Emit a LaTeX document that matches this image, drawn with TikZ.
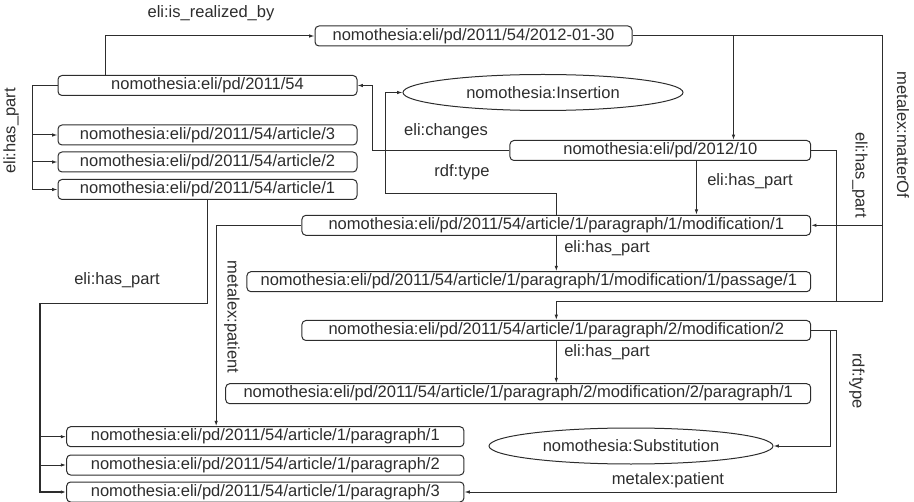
\documentclass[tikz,border=0pt]{standalone}
\usepackage{fontspec}
\setmainfont{Liberation Sans}
\usetikzlibrary{arrows.meta,calc,shapes.geometric}
\definecolor{ink}{RGB}{45,45,45}
\begin{document}
\begin{tikzpicture}[x=0.75pt,y=-0.75pt,
  font=\fontsize{12.4}{14}\selectfont,
  every node/.style={text=ink},
  uri/.style={draw=ink, line width=0.75pt, rounded corners=3pt,
    minimum height=15pt, minimum width=#1*0.75pt, inner sep=0pt},
  cls/.style={draw=ink, line width=0.75pt, ellipse,
    minimum height=27pt, minimum width=#1*0.75pt, inner sep=0pt},
  edge/.style={draw=ink, line width=0.75pt},
  arr/.style={edge, -{Latex[length=4pt,width=2.6pt]}},
  lbl/.style={inner sep=0pt}]
\useasboundingbox (0,0) rectangle (914,502);

% resources
\node[uri=317]   (real) at (473.5,36)   {nomothesia:eli/pd/2011/54/2012-01-30};
\node[uri=299]   (act)  at (207.5,85.5) {nomothesia:eli/pd/2011/54};
\node[uri=299]   (a3)   at (207.5,135)  {nomothesia:eli/pd/2011/54/article/3};
\node[uri=299]   (a2)   at (207.5,162)  {nomothesia:eli/pd/2011/54/article/2};
\node[uri=299]   (a1)   at (207.5,189.5){nomothesia:eli/pd/2011/54/article/1};
\node[cls=280]   (ins)  at (543,92.5)   {nomothesia:Insertion};
\node[uri=300.7] (chg)  at (660.3,150.5){nomothesia:eli/pd/2012/10};
\node[uri=508.7] (m1)   at (556.3,225.3){nomothesia:eli/pd/2011/54/article/1/paragraph/1/modification/1};
\node[uri=563.7] (pass) at (528.8,281.7){nomothesia:eli/pd/2011/54/article/1/paragraph/1/modification/1/passage/1};
\node[uri=508.7] (m2)   at (556.3,330.5){nomothesia:eli/pd/2011/54/article/1/paragraph/2/modification/2};
\node[uri=585]   (m2p1) at (518.2,393.7){nomothesia:eli/pd/2011/54/article/1/paragraph/2/modification/2/paragraph/1};
\node[uri=397.3] (p1)   at (265.3,436.7){nomothesia:eli/pd/2011/54/article/1/paragraph/1};
\node[uri=397.3] (p2)   at (265.3,465)  {nomothesia:eli/pd/2011/54/article/1/paragraph/2};
\node[uri=397.3] (p3)   at (265.3,492)  {nomothesia:eli/pd/2011/54/article/1/paragraph/3};
\node[cls=284]   (sub)  at (631,446)    {nomothesia:Substitution};

% junction points
\coordinate (hl) at (32,85.5);
\coordinate (hp) at (40,303.3);
\coordinate (mo) at (882,225.3);
\coordinate (jn) at (882,301.7);
\coordinate (hr) at (836,301.7);

% eli:is_realized_by
\draw[arr] ($(act.north west)+(48,0)$) |- (real.west);
% eli:has_part (act -> articles)
\draw[arr] (act.west) -- (hl) |- (a1.west);
\draw[arr] (hl |- a3.west) -- (a3.west);
\draw[arr] (hl |- a2.west) -- (a2.west);
% eli:changes
\draw[arr] (chg.west) -| ($(act.east)+(15,0)$) -- (act.east);
% rdf:type (m1 -> Insertion)
\draw[arr] (m1.north) -- ++(0,-21) -| ($(ins.west)+(-17,0)$) -- (ins.west);
% branch from real down to chg
\draw[arr] ($(real.east)+(101,0)$) coordinate (rb) -- (rb |- chg.north);
% metalex:matterOf
\draw[arr] (real.east) -| (mo) -- (m1.east);
\draw[arr] (mo) -- (jn) -| (m2.north);
% eli:has_part (chg -> m1, chg -> m2)
\draw[arr] ($(chg.south west)+(187,0)$) coordinate (cb) -- (cb |- m1.north);
\draw[edge] (chg.east) -| (hr);
% eli:has_part (m1 -> passage, m2 -> paragraph)
\draw[arr] (m1.south) -- (m1.south |- pass.north);
\draw[arr] (m2.south) -- (m2.south |- m2p1.north);
% metalex:patient (m1 -> p1)
\draw[arr] (m1.west) -| ($(p1.north west)+(150,0)$);
% eli:has_part (a1 -> paragraphs)
\draw[edge, line width=1.1pt] (a1.south) |- (hp) -- (hp |- p1.west);
\draw[arr, line width=0.95pt] (hp |- p1.west) |- (p3.west);
\draw[arr] (hp |- p1.west) -- (p1.west);
\draw[arr] (hp |- p2.west) -- (p2.west);
% rdf:type (m2 -> Substitution), metalex:patient (m2 -> p3)
\draw[arr] (m2.east) -| ($(sub.east)+(57,0)$) -- (sub.east);
\draw[arr] (m2.east) -| ($(p3.east)+(372,0)$) -- (p3.east);

% edge labels
\node[lbl] at (211,13) {eli:is\_realized\_by};
\node[lbl, rotate=90] at (11,131) {eli:has\_part};
\node[lbl, rotate=-90] at (903,135) {metalex:matterOf};
\node[lbl, rotate=-90] at (860,175) {eli:has\_part};
\node[lbl] at (446,131) {eli:changes};
\node[lbl] at (462,172) {rdf:type};
\node[lbl] at (750,181) {eli:has\_part};
\node[lbl] at (607,248) {eli:has\_part};
\node[lbl] at (607,352) {eli:has\_part};
\node[lbl] at (117,280) {eli:has\_part};
\node[lbl, rotate=-90] at (232,317) {metalex:patient};
\node[lbl, rotate=-90] at (857,381) {rdf:type};
\node[lbl] at (668,480) {metalex:patient};
\end{tikzpicture}
\end{document}
